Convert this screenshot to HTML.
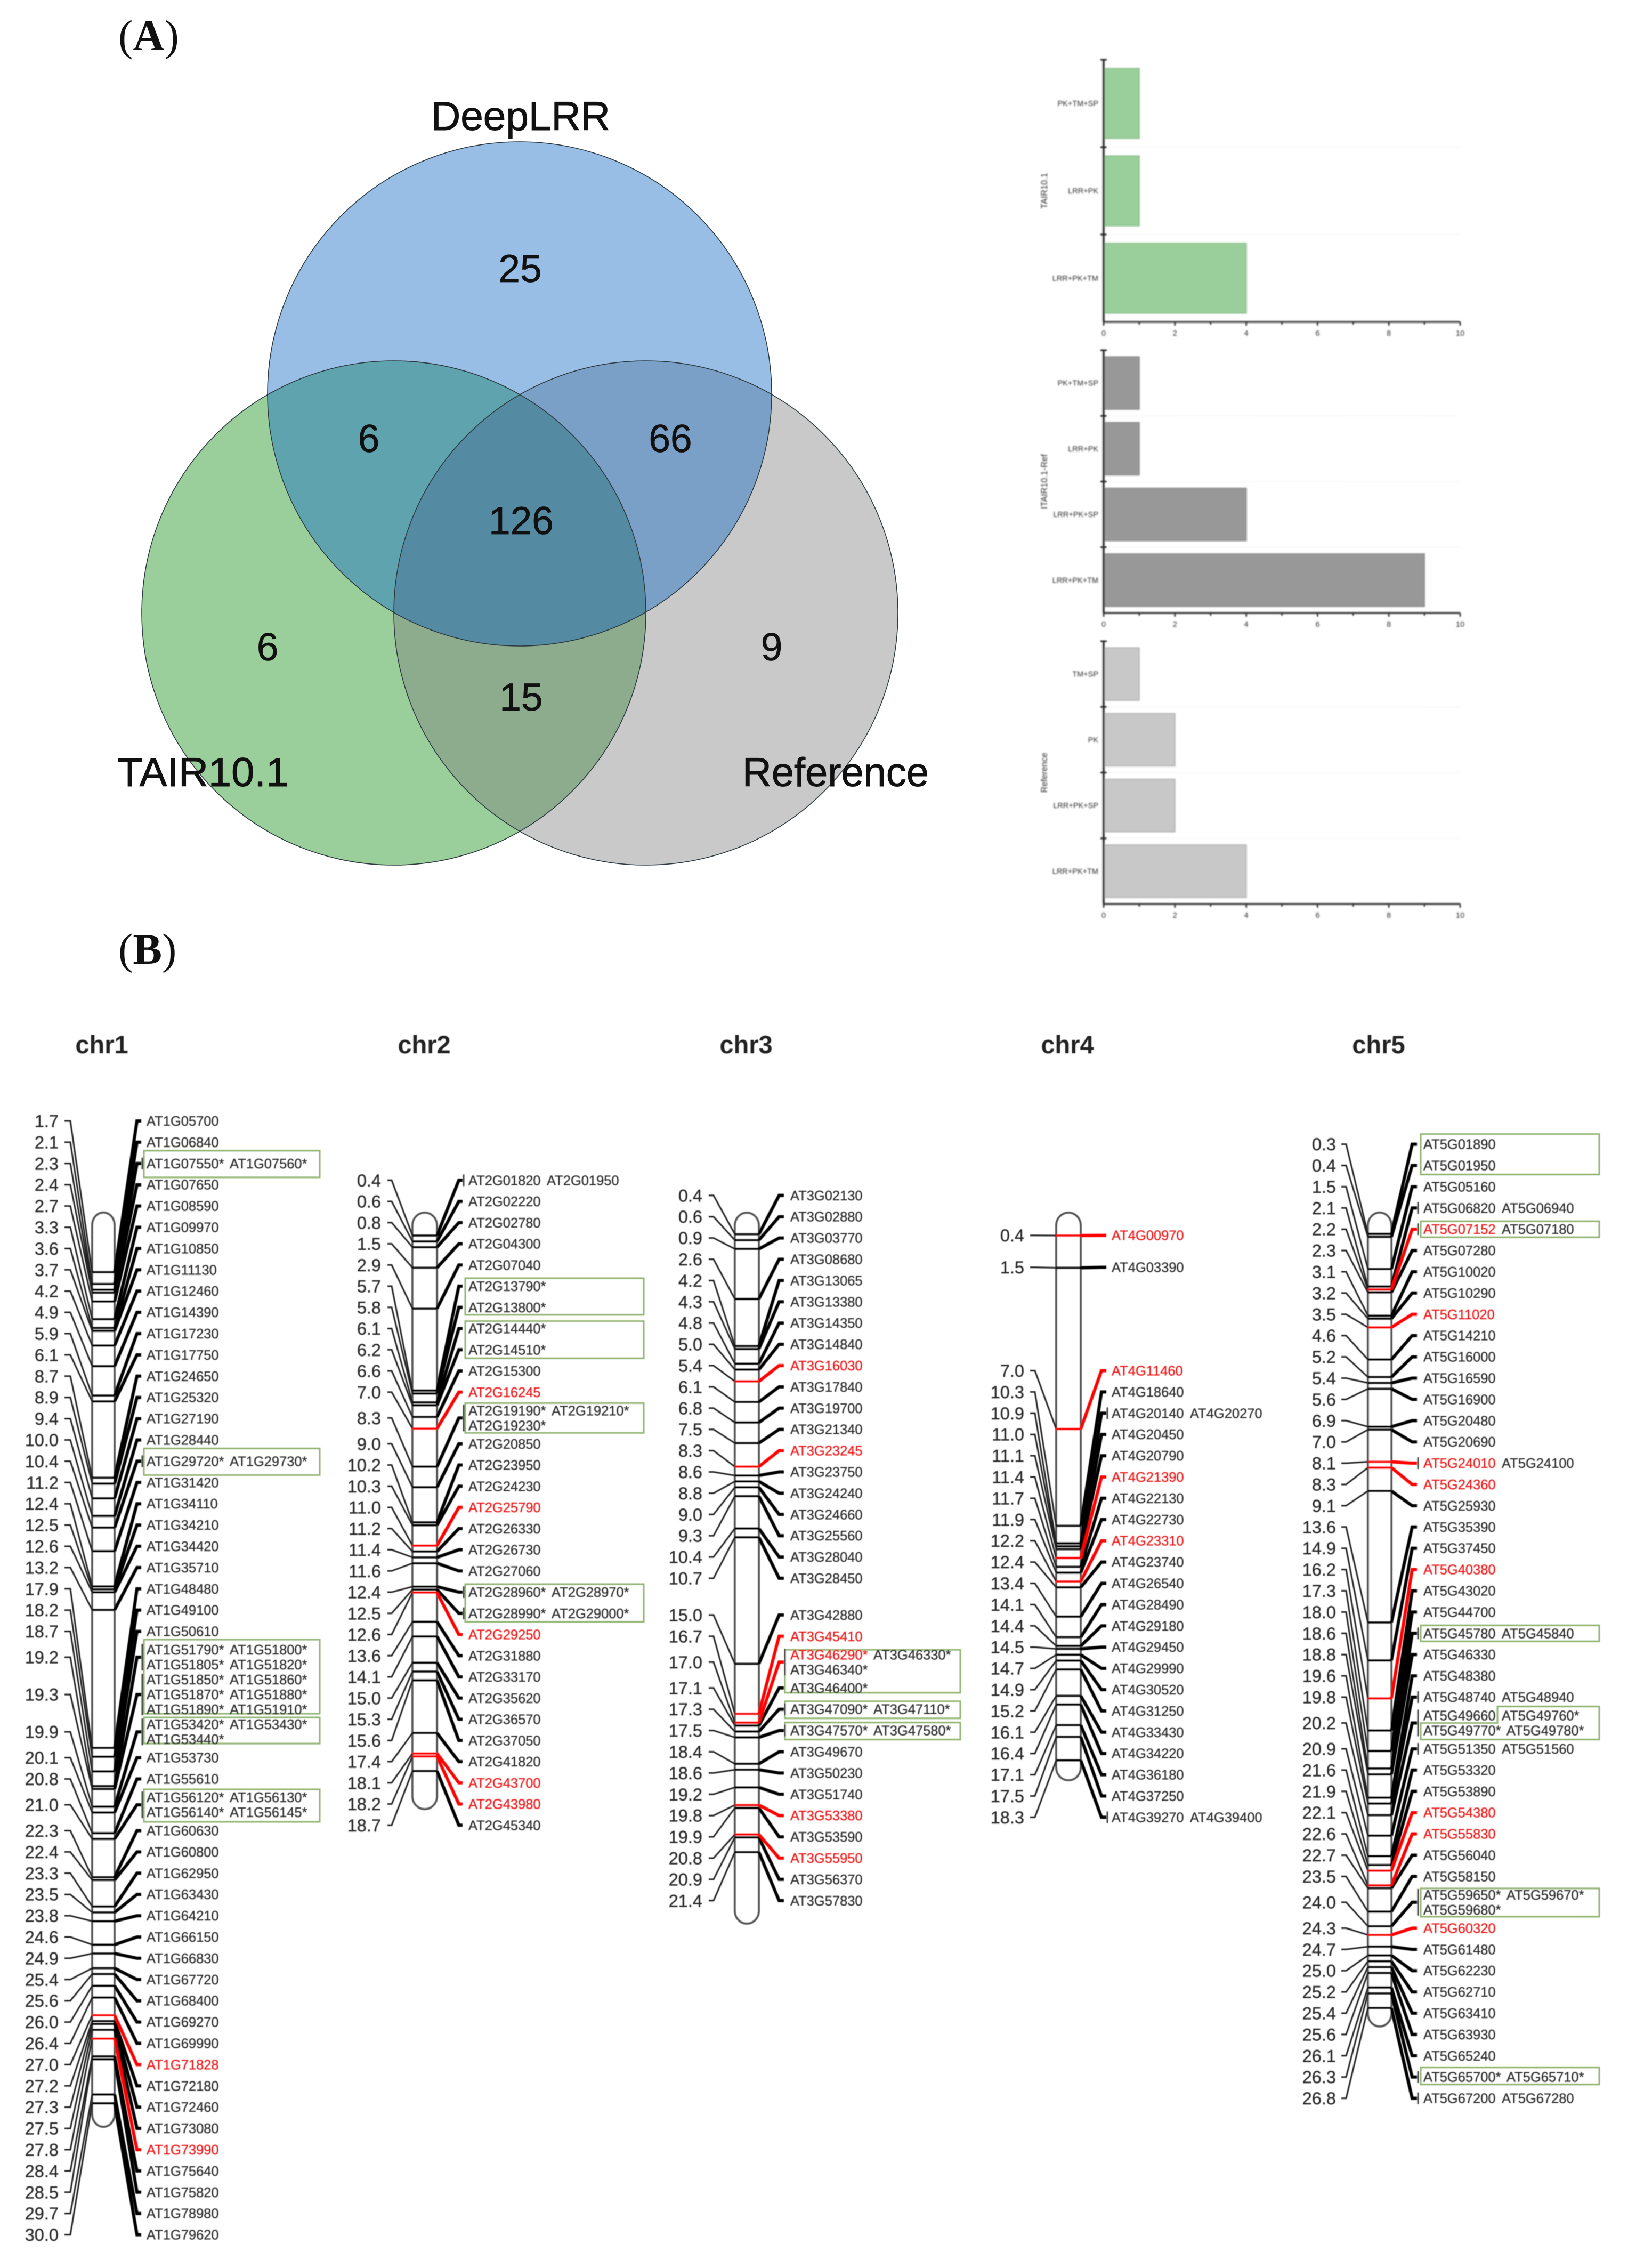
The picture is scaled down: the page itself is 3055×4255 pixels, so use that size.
<!DOCTYPE html>
<html lang="en">
<head>
<meta charset="utf-8">
<title>DeepLRR Venn diagram, domain bars and chromosome maps</title>
<style>
html,body{margin:0;padding:0;background:#fff}
svg{display:block}
text{font-family:"Liberation Sans",sans-serif}
.serif{font-family:"Liberation Serif",serif}
</style>
</head>
<body>
<svg id="root" xmlns="http://www.w3.org/2000/svg" width="3055" height="4255" viewBox="0 0 3055 4255">
<defs>
<filter id="soft" filterUnits="userSpaceOnUse" x="0" y="0" width="3055" height="4255"><feGaussianBlur stdDeviation="0.9"/></filter>
<filter id="softer" filterUnits="userSpaceOnUse" x="0" y="0" width="3055" height="4255"><feGaussianBlur stdDeviation="1.3"/></filter>
<clipPath id="clip-blue"><circle cx="975" cy="739" r="473"/></clipPath>
<clipPath id="clip-green"><circle cx="739" cy="1150" r="473"/></clipPath>
</defs>
<rect width="3055" height="4255" fill="#fff"/>

<text class="serif" x="222" y="94" font-size="82" fill="#111">(<tspan font-weight="bold">A</tspan>)</text>
<text class="serif" x="222" y="1808" font-size="82" fill="#111">(<tspan font-weight="bold">B</tspan>)</text>

<g>
<circle cx="739" cy="1150" r="473" fill="#9ACE9A"/>
<circle cx="1212" cy="1150" r="473" fill="#C9C9C9"/>
<circle cx="975" cy="739" r="473" fill="#99BEE6"/>
<circle cx="1212" cy="1150" r="473" fill="#8DAB8D" clip-path="url(#clip-green)"/>
<circle cx="739" cy="1150" r="473" fill="#5EA3AE" clip-path="url(#clip-blue)"/>
<circle cx="1212" cy="1150" r="473" fill="#7BA0C8" clip-path="url(#clip-blue)"/>
<g clip-path="url(#clip-green)"><circle cx="1212" cy="1150" r="473" fill="#548BA3" clip-path="url(#clip-blue)"/></g>
<g fill="none" stroke="#2c3a40" stroke-width="1.6">
<circle cx="739" cy="1150" r="473"/>
<circle cx="1212" cy="1150" r="473"/>
<circle cx="975" cy="739" r="473"/>
</g>
<g font-size="73" fill="#111" stroke="#111" stroke-width="0.7" text-anchor="middle">
<text x="976" y="529">25</text>
<text x="692" y="848">6</text>
<text x="1258" y="848">66</text>
<text x="978" y="1002">126</text>
<text x="502" y="1239">6</text>
<text x="1448" y="1239">9</text>
<text x="978" y="1333">15</text>
</g>
<g font-size="76" fill="#111" stroke="#111" stroke-width="0.9">
<text x="809" y="244" textLength="336" lengthAdjust="spacingAndGlyphs">DeepLRR</text>
<text x="220" y="1475" textLength="322" lengthAdjust="spacingAndGlyphs">TAIR10.1</text>
<text x="1393" y="1475" textLength="350" lengthAdjust="spacingAndGlyphs">Reference</text>
</g>
</g>
<g id="bars" filter="url(#softer)"></g>
<g id="chroms" filter="url(#soft)"></g>
</svg>

<script>
/* ---------- bar chart data ---------- */
const tairCategories = ['PK+TM+SP', 'LRR+PK', 'LRR+PK+TM'];
const tairValues = [1, 1, 4];
const itairCategories = ['PK+TM+SP', 'LRR+PK', 'LRR+PK+SP', 'LRR+PK+TM'];
const itairValues = [1, 1, 4, 9];
const referenceCategories = ['TM+SP', 'PK', 'LRR+PK+SP', 'LRR+PK+TM'];
const referenceValues = [1, 2, 2, 4];
const countTicks = [0, 1, 2, 3, 4, 5, 6, 7, 8, 9, 10];
const countTickLabels = ['0', '', '2', '', '4', '', '6', '', '8', '', '10'];

/* ---------- chromosome data ---------- */
const chr1Mb = [1.7,2.1,2.3,2.4,2.7,3.3,3.6,3.7,4.2,4.9,5.9,6.1,8.7,8.9,9.4,10.0,10.4,11.2,12.4,12.5,12.6,13.2,17.9,18.2,18.7,19.2,19.3,19.9,20.1,20.8,21.0,22.3,22.4,23.3,23.5,23.8,24.6,24.9,25.4,25.6,26.0,26.4,27.0,27.2,27.3,27.5,27.8,28.4,28.5,29.7,30.0];
const chr1Genes = ['AT1G05700','AT1G06840','AT1G07550* AT1G07560*','AT1G07650','AT1G08590','AT1G09970','AT1G10850','AT1G11130','AT1G12460','AT1G14390','AT1G17230','AT1G17750','AT1G24650','AT1G25320','AT1G27190','AT1G28440','AT1G29720* AT1G29730*','AT1G31420','AT1G34110','AT1G34210','AT1G34420','AT1G35710','AT1G48480','AT1G49100','AT1G50610','AT1G51790* AT1G51800*|AT1G51805* AT1G51820*','AT1G51850* AT1G51860*|AT1G51870* AT1G51880*|AT1G51890* AT1G51910*','AT1G53420* AT1G53430*|AT1G53440*','AT1G53730','AT1G55610','AT1G56120* AT1G56130*|AT1G56140* AT1G56145*','AT1G60630','AT1G60800','AT1G62950','AT1G63430','AT1G64210','AT1G66150','AT1G66830','AT1G67720','AT1G68400','AT1G69270','AT1G69990','AT1G71828','AT1G72180','AT1G72460','AT1G73080','AT1G73990','AT1G75640','AT1G75820','AT1G78980','AT1G79620'];
const chr1Red = ['AT1G71828','AT1G73990'];

const chr2Mb = [0.4,0.6,0.8,1.5,2.9,5.7,5.8,6.1,6.2,6.6,7.0,8.3,9.0,10.2,10.3,11.0,11.2,11.4,11.6,12.4,12.5,12.6,13.6,14.1,15.0,15.3,15.6,17.4,18.1,18.2,18.7];
const chr2Genes = ['AT2G01820 AT2G01950','AT2G02220','AT2G02780','AT2G04300','AT2G07040','AT2G13790*','AT2G13800*','AT2G14440*','AT2G14510*','AT2G15300','AT2G16245','AT2G19190* AT2G19210*|AT2G19230*','AT2G20850','AT2G23950','AT2G24230','AT2G25790','AT2G26330','AT2G26730','AT2G27060','AT2G28960* AT2G28970*','AT2G28990* AT2G29000*','AT2G29250','AT2G31880','AT2G33170','AT2G35620','AT2G36570','AT2G37050','AT2G41820','AT2G43700','AT2G43980','AT2G45340'];
const chr2Red = ['AT2G16245','AT2G25790','AT2G29250','AT2G43700','AT2G43980'];

const chr3Mb = [0.4,0.6,0.9,2.6,4.2,4.3,4.8,5.0,5.4,6.1,6.8,7.5,8.3,8.6,8.8,9.0,9.3,10.4,10.7,15.0,16.7,17.0,17.1,17.3,17.5,18.4,18.6,19.2,19.8,19.9,20.8,20.9,21.4];
const chr3Genes = ['AT3G02130','AT3G02880','AT3G03770','AT3G08680','AT3G13065','AT3G13380','AT3G14350','AT3G14840','AT3G16030','AT3G17840','AT3G19700','AT3G21340','AT3G23245','AT3G23750','AT3G24240','AT3G24660','AT3G25560','AT3G28040','AT3G28450','AT3G42880','AT3G45410','AT3G46290* AT3G46330*|AT3G46340*','AT3G46400*','AT3G47090* AT3G47110*','AT3G47570* AT3G47580*','AT3G49670','AT3G50230','AT3G51740','AT3G53380','AT3G53590','AT3G55950','AT3G56370','AT3G57830'];
const chr3Red = ['AT3G16030','AT3G23245','AT3G45410','AT3G46290*','AT3G53380','AT3G55950'];

const chr4Mb = [0.4,1.5,7.0,10.3,10.9,11.0,11.1,11.4,11.7,11.9,12.2,12.4,13.4,14.1,14.4,14.5,14.7,14.9,15.2,16.1,16.4,17.1,17.5,18.3];
const chr4Genes = ['AT4G00970','AT4G03390','AT4G11460','AT4G18640','AT4G20140 AT4G20270','AT4G20450','AT4G20790','AT4G21390','AT4G22130','AT4G22730','AT4G23310','AT4G23740','AT4G26540','AT4G28490','AT4G29180','AT4G29450','AT4G29990','AT4G30520','AT4G31250','AT4G33430','AT4G34220','AT4G36180','AT4G37250','AT4G39270 AT4G39400'];
const chr4Red = ['AT4G00970','AT4G11460','AT4G21390','AT4G23310'];

const chr5Mb = [0.3,0.4,1.5,2.1,2.2,2.3,3.1,3.2,3.5,4.6,5.2,5.4,5.6,6.9,7.0,8.1,8.3,9.1,13.6,14.9,16.2,17.3,18.0,18.6,18.8,19.6,19.8,20.2,20.9,21.6,21.9,22.1,22.6,22.7,23.5,24.0,24.3,24.7,25.0,25.2,25.4,25.6,26.1,26.3,26.8];
const chr5Genes = ['AT5G01890','AT5G01950','AT5G05160','AT5G06820 AT5G06940','AT5G07152 AT5G07180','AT5G07280','AT5G10020','AT5G10290','AT5G11020','AT5G14210','AT5G16000','AT5G16590','AT5G16900','AT5G20480','AT5G20690','AT5G24010 AT5G24100','AT5G24360','AT5G25930','AT5G35390','AT5G37450','AT5G40380','AT5G43020','AT5G44700','AT5G45780 AT5G45840','AT5G46330','AT5G48380','AT5G48740 AT5G48940','AT5G49660 AT5G49760*|AT5G49770* AT5G49780*','AT5G51350 AT5G51560','AT5G53320','AT5G53890','AT5G54380','AT5G55830','AT5G56040','AT5G58150','AT5G59650* AT5G59670*|AT5G59680*','AT5G60320','AT5G61480','AT5G62230','AT5G62710','AT5G63410','AT5G63930','AT5G65240','AT5G65700* AT5G65710*','AT5G67200 AT5G67280'];
const chr5Red = ['AT5G07152','AT5G11020','AT5G24010','AT5G24360','AT5G40380','AT5G54380','AT5G55830','AT5G60320'];

/* ---------- helpers ---------- */
const NS = 'http://www.w3.org/2000/svg';
function mk(tag, attrs, parent, txt) {
  const el = document.createElementNS(NS, tag);
  for (const k in attrs) el.setAttribute(k, attrs[k]);
  if (txt !== undefined) el.textContent = txt;
  parent.appendChild(el);
  return el;
}

/* ---------- bar panels ---------- */
function drawBarPanel(host, name, title, categories, values, fill, edge, top, bottom) {
  const xScale = v => 2071 + v * 66.9;
  const band = (bottom - top) / categories.length;
  const pad = band * 0.1;
  const g = mk('g', {}, host);
  
  
  categories.forEach((c, i) => {
    const y0 = top + i * band;
    const bar = mk('rect', {x: xScale(0), y: y0 + pad, width: xScale(values[i]) - xScale(0), height: band - 2 * pad, fill: fill, stroke: edge, 'stroke-width': 2}, g);
    
    
    const lab = mk('text', {x: 2061, y: y0 + band / 2 + 5, 'text-anchor': 'end', 'font-size': 14.5, fill: '#2c2c2c'}, g, c);
    
    
    if (i > 0) {
      const grid = mk('line', {x1: xScale(0), x2: xScale(10), y1: y0, y2: y0, stroke: '#e4e4e4', 'stroke-width': 1.5, 'stroke-dasharray': '2 3'}, g);
      
      
    }
    const yt = mk('line', {x1: xScale(0) - 6, x2: xScale(0) + 6, y1: y0, y2: y0, stroke: '#222', 'stroke-width': 3}, g);
    
    
  });
  const xAxis = mk('line', {x1: xScale(0), x2: xScale(10), y1: bottom, y2: bottom, stroke: '#444', 'stroke-width': 3.5}, g);
  
  
  const yAxis = mk('line', {x1: xScale(0), x2: xScale(0), y1: top, y2: bottom, stroke: '#222', 'stroke-width': 3.5}, g);
  
  
  countTicks.forEach((t, i) => {
    const major = countTickLabels[i] !== '';
    const tick = mk('line', {x1: xScale(t), x2: xScale(t), y1: bottom, y2: bottom + (major ? 7 : 5), stroke: '#222', 'stroke-width': 2.5}, g);
    
    
    if (major) {
      const tl = mk('text', {x: xScale(t), y: bottom + 26, 'text-anchor': 'middle', 'font-size': 14.5, fill: '#2c2c2c'}, g, countTickLabels[i]);
      
      
    }
  });
  const cy = (top + bottom) / 2;
  const tt = mk('text', {x: 0, y: 0, 'text-anchor': 'middle', 'font-size': 16.3, fill: '#2c2c2c', transform: 'translate(1965 ' + cy + ') rotate(-90)'}, g, title);
  
  
}
const barsHost = document.getElementById('bars');
drawBarPanel(barsHost, 'bar-panel-tair', 'TAIR10.1', tairCategories, tairValues, '#9ACE9A', '#8cbf8c', 112, 604);
drawBarPanel(barsHost, 'bar-panel-itair', 'ITAIR10.1-Ref', itairCategories, itairValues, '#989898', '#8c8c8c', 657, 1150);
drawBarPanel(barsHost, 'bar-panel-reference', 'Reference', referenceCategories, referenceValues, '#C8C8C8', '#b4b4b4', 1203, 1696);

/* ---------- chromosome maps ---------- */
function drawChromosome(host, name, title, mb, genes, red, cfg) {
  const yScale = v => cfg.a + cfg.b * v;
  const LINE = 28, TRANS = 34.5;
  const g = mk('g', {}, host);
  
  

  const head = mk('text', {x: cfg.titleX, y: 1976, 'text-anchor': 'middle', 'font-size': 47, 'font-weight': 'bold', fill: '#222'}, g, title);
  
  

  const top = yScale(cfg.topMb), bot = yScale(cfg.lenMb);
  const w = cfg.capR - cfg.capL;
  const body = mk('rect', {x: cfg.capL, y: top, width: w, height: bot - top, rx: w / 2, ry: 24, fill: '#fff', stroke: '#555', 'stroke-width': 4}, g);
  
  

  /* label row layout */
  const rows = [];
  let y = cfg.start, prevMulti = false;
  genes.forEach((entry, i) => {
    const lines = entry.split('|');
    const multi = lines.length > 1;
    if (i > 0) {
      y += (multi && prevMulti) ? LINE : ((multi || prevMulti) ? TRANS : cfg.step);
      y += (cfg.gaps && cfg.gaps[i - 1]) || 0;
    }
    const ys = lines.map((_, k) => y + k * LINE);
    y = ys[ys.length - 1];
    rows.push({lines: lines, ys: ys, cy: (ys[0] + ys[ys.length - 1]) / 2});
    prevMulti = multi;
  });

  /* boxes under the labels */
  (cfg.boxes || []).forEach(bx => {
    const t = rows[bx[0]].ys[0] - bx[2];
    const lastYs = rows[bx[1]].ys;
    const b = lastYs[lastYs.length - 1] + bx[3];
    const attrs = {fill: 'none', stroke: '#8fb26e', 'stroke-width': 3};
    let box;
    if (bx[4]) {
      const mid = rows[bx[0]].ys[0] + 14;
      attrs.points = [bx[4], t, cfg.boxR, t, cfg.boxR, b, cfg.boxL, b, cfg.boxL, mid, bx[4], mid].join(' ');
      box = mk('polygon', attrs, g);
    } else {
      attrs.x = cfg.boxL; attrs.y = t; attrs.width = cfg.boxR - cfg.boxL; attrs.height = b - t;
      box = mk('rect', attrs, g);
    }
    
    
  });

  /* connectors and bands: black first, red on top */
  const isRedRow = i => red.includes(rows[i].lines[0].split(' ')[0]);
  const order = mb.map((_, i) => i).sort((p, q) => (isRedRow(p) ? 1 : 0) - (isRedRow(q) ? 1 : 0));
  order.forEach(i => {
    const rowY = rows[i].cy, by = yScale(mb[i]), hot = isRedRow(i);
    const left = mk('polyline', {points: [cfg.stubL0, rowY, cfg.stubL1, rowY, cfg.capL, by].join(' '), fill: 'none', stroke: '#222', 'stroke-width': 3}, g);
    
    
    const right = mk('polyline', {points: [cfg.capR, by, cfg.stubR0, rowY, cfg.stubR1, rowY].join(' '), fill: 'none', stroke: hot ? '#f00' : '#000', 'stroke-width': 6}, g);
    
    
    const band = mk('line', {x1: cfg.capL, x2: cfg.capR, y1: by, y2: by, stroke: hot ? '#f00' : '#000', 'stroke-width': 4.5}, g);
    
    
    const pos = mk('text', {x: cfg.labelR, y: rowY + 11.5, 'text-anchor': 'end', 'font-size': 32.5, fill: '#2a2a2a', stroke: '#2a2a2a', 'stroke-width': 0.4}, g, mb[i].toFixed(1));
    
    
    const count = rows[i].lines.join(' ').split(' ').length;
    if (count > 1) {
      const first = rows[i].ys[0], last = rows[i].ys[rows[i].ys.length - 1];
      const bracket = mk('line', {x1: cfg.stubR1 + 2, x2: cfg.stubR1 + 2, y1: first - 11, y2: last + 11, stroke: '#444', 'stroke-width': 3}, g);
      
      
    }
    rows[i].lines.forEach((line, k) => {
      let x = cfg.geneX;
      line.split(' ').forEach(gene => {
        const col = red.includes(gene) ? '#f01818' : '#2e2e2e';
        const t = mk('text', {x: x, y: rows[i].ys[k] + 9, 'font-size': 25.5, fill: col, stroke: col, 'stroke-width': 0.35}, g, gene);
        
        
        x += gene.endsWith('*') ? 156 : 147;
      });
    });
  });
}
const chromHost = document.getElementById('chroms');
drawChromosome(chromHost, 'chromosome-1', 'chr1', chr1Mb, chr1Genes, chr1Red, {
  a: 2293, b: 55.1, topMb: -0.33, lenMb: 30.8, start: 2103, step: 39.9, titleX: 191,
  labelR: 110, stubL0: 121, stubL1: 132, capL: 173, capR: 215, stubR0: 257, stubR1: 265, geneX: 275,
  boxL: 270, boxR: 600,
  boxes: [[2, 2, 24, 26], [16, 16, 24, 26], [25, 26, 19, 8], [27, 27, 13, 8], [30, 30, 15, 18]]
});
drawChromosome(chromHost, 'chromosome-2', 'chr2', chr2Mb, chr2Genes, chr2Red, {
  a: 2296, b: 54.9, topMb: -0.38, lenMb: 20.0, start: 2214.3, step: 39.75, titleX: 796,
  labelR: 715, stubL0: 727, stubL1: 735, capL: 774, capR: 820, stubR0: 861, stubR1: 868, geneX: 879,
  boxL: 873, boxR: 1208,
  boxes: [[5, 6, 15, 14], [7, 8, 14, 16], [11, 11, 14, 14], [19, 20, 15, 16]]
});
drawChromosome(chromHost, 'chromosome-3', 'chr3', chr3Mb, chr3Genes, chr3Red, {
  a: 2293.5, b: 55.2, topMb: -0.33, lenMb: 23.83, start: 2242.8, step: 39.9, titleX: 1400,
  labelR: 1318, stubL0: 1330, stubL1: 1339, capL: 1379, capR: 1424, stubR0: 1462, stubR1: 1471, geneX: 1483,
  boxL: 1473, boxR: 1802, gaps: {18: 29},
  boxes: [[21, 22, 9, 9], [23, 23, 15, 17], [24, 24, 15, 17]]
});
drawChromosome(chromHost, 'chromosome-4', 'chr4', chr4Mb, chr4Genes, chr4Red, {
  a: 2296, b: 55, topMb: -0.38, lenMb: 18.98, start: 2317.7, step: 39.9, titleX: 2003,
  labelR: 1922, stubL0: 1933, stubL1: 1942, capL: 1982, capR: 2028, stubR0: 2067, stubR1: 2076, geneX: 2086,
  gaps: {0: 20, 1: 154}
});
drawChromosome(chromHost, 'chromosome-5', 'chr5', chr5Mb, chr5Genes, chr5Red, {
  a: 2298.6, b: 54.8, topMb: -0.43, lenMb: 27.43, start: 2146.6, step: 39.9, titleX: 2587,
  labelR: 2507, stubL0: 2517, stubL1: 2526, capL: 2567, capR: 2611, stubR0: 2650, stubR1: 2659, geneX: 2671,
  boxL: 2666, boxR: 3001,
  boxes: [[0, 1, 19, 17], [4, 4, 15, 15], [23, 23, 15, 15], [27, 27, 17, 17, 2810], [35, 35, 12, 13], [43, 43, 18, 14]]
});
</script>
</body>
</html>
